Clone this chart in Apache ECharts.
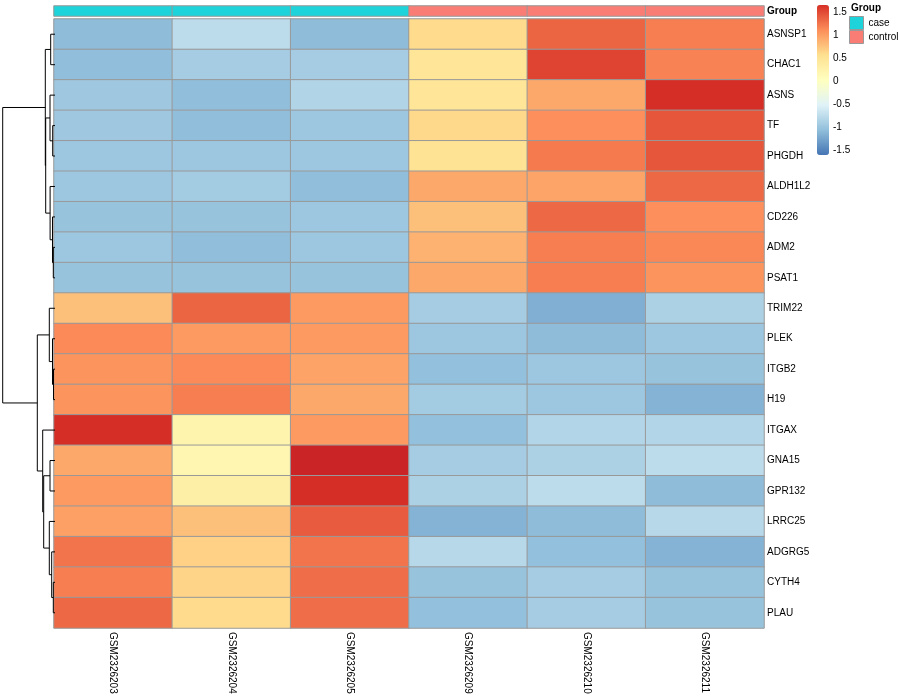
<!DOCTYPE html>
<html><head><meta charset="utf-8">
<script src="https://cdn.jsdelivr.net/npm/echarts@6/dist/echarts.min.js"></script>
<style>html,body{margin:0;padding:0;background:#fff}#c{width:900px;height:700px}</style>
</head><body><div id="c"></div>
<script>
// ---------- data ----------
const samples = ['GSM2326203','GSM2326204','GSM2326205','GSM2326209','GSM2326210','GSM2326211'];
const groups  = ['case','case','case','control','control','control'];
const groupNames = ['case','control'];
const genes = ['ASNSP1','CHAC1','ASNS','TF','PHGDH','ALDH1L2','CD226','ADM2','PSAT1','TRIM22',
               'PLEK','ITGB2','H19','ITGAX','GNA15','GPR132','LRRC25','ADGRG5','CYTH4','PLAU'];
// row-scaled expression, one row per gene (same order as genes), one column per sample
const expr = [
  [-1.09,-0.76,-1.09, 0.60, 1.35, 1.20],
  [-1.07,-0.93,-0.93, 0.48, 1.54, 1.18],
  [-0.97,-1.07,-0.84, 0.48, 0.94, 1.68],
  [-0.97,-1.07,-0.98, 0.62, 1.10, 1.44],
  [-0.98,-0.98,-0.98, 0.52, 1.22, 1.44],
  [-0.98,-0.94,-1.07, 0.94, 0.96, 1.33],
  [-1.02,-1.02,-0.98, 0.78, 1.33, 1.10],
  [-0.98,-1.07,-0.98, 0.87, 1.20, 1.15],
  [-1.02,-1.02,-1.02, 0.94, 1.20, 1.07],
  [ 0.78, 1.35, 1.03,-0.93,-1.18,-0.88],
  [ 1.13, 1.03, 1.03,-0.98,-1.09,-0.98],
  [ 1.07, 1.13, 0.97,-1.05,-0.98,-1.02],
  [ 1.07, 1.20, 0.94,-0.94,-0.98,-1.15],
  [ 1.68, 0.22, 1.03,-1.05,-0.83,-0.83],
  [ 0.94, 0.18, 1.80,-0.93,-0.88,-0.76],
  [ 1.03, 0.30, 1.68,-0.88,-0.76,-1.09],
  [ 0.99, 0.78, 1.41,-1.15,-1.09,-0.80],
  [ 1.26, 0.67, 1.26,-0.80,-1.05,-1.15],
  [ 1.20, 0.65, 1.30,-1.02,-0.93,-1.02],
  [ 1.33, 0.60, 1.30,-1.05,-0.93,-1.02]
];
const legendTicks = [-1.5, -1, -0.5, 0, 0.5, 1, 1.5];
const colorMin = -1.61, colorMax = 1.66;
// row dendrogram (hclust style): negative = leaf (1-based gene index), positive = earlier merge (1-based)
const mergeA = [-12, -8, -19, -4, -7, -11, -18, -1, -3, -6, -15, -10, -17,  9,  8, 11, -14, 12, 15];
const mergeB = [-13, -9, -20, -5,  2,   1,   3, -2,  4,  5, -16,   6,   7, 10, 14, 13,  16, 17, 18];
const mergeH = [1.5, 1.7, 1.7, 2.3, 2.5, 2.5, 3.3, 4.3, 5.0, 4.9, 5.0, 5.7, 5.7, 9.3, 9.7, 11.3, 12.3, 17.7, 52.3];

// ---------- styles ----------
const palette = ['#4575B4','#91BFDB','#E0F3F8','#FFFFBF','#FEE090','#FC8D59','#D73027'];
const paletteExt = palette.concat(['#A50026']);   // deeper red for values above the legend range
const stepC = (colorMax - colorMin) / (palette.length - 1);
const FONT = 'Liberation Sans, Arial, Helvetica, sans-serif';
const groupColors = {case:'#1ED3D9', control:'#FA7D75'};

// ---------- build series data ----------
const heatData = [];
expr.forEach((row, r) => row.forEach((v, c) => heatData.push([c, r, v])));

const nodeY = [], nodeH = [];
const dendroData = [];
mergeH.forEach((h, k) => {
  const a = mergeA[k], b = mergeB[k];
  const ya = a < 0 ? -a - 1 : nodeY[a - 1], ha = a < 0 ? 0 : nodeH[a - 1];
  const yb = b < 0 ? -b - 1 : nodeY[b - 1], hb = b < 0 ? 0 : nodeH[b - 1];
  nodeY[k] = (ya + yb) / 2; nodeH[k] = h;
  dendroData.push([ha, ya, hb, yb, h]);
});

const annoSeries = groupNames.map(g => ({
  type: 'heatmap', name: g, xAxisIndex: 1, yAxisIndex: 1,
  data: samples.map((s, i) => groups[i] === g ? [i, 0, 1] : null).filter(d => d),
  itemStyle: {color: groupColors[g], borderColor: '#999', borderWidth: 1},
  emphasis: {disabled: true}
}));

const chart = echarts.init(document.getElementById('c'), null, {renderer: 'canvas'});
chart.setOption({
  animation: false,
  backgroundColor: '#fff',
  textStyle: {fontFamily: FONT, color: '#000'},
  title: {text: 'Group', left: 851, top: 3, padding: 0,
          textStyle: {fontSize: 10, fontWeight: 'bold', color: '#000', fontFamily: FONT}},
  legend: {
    data: groupNames, orient: 'vertical', left: 849, top: 16, padding: 0,
    itemWidth: 14, itemHeight: 13, itemGap: 0, icon: 'rect',
    itemStyle: {borderColor: '#999', borderWidth: 1},
    textStyle: {fontSize: 10, color: '#000', fontFamily: FONT, overflow: 'none'},
    selectedMode: false
  },
  grid: [
    {left: 54, top: 19, width: 710, height: 609, outerBoundsMode: 'none'},
    {left: 54, top: 6, width: 710, height: 10, outerBoundsMode: 'none'},
    {left: 2.7, top: 19, width: 52.3, height: 609, outerBoundsMode: 'none'},
    {left: 817, top: 12, width: 12, height: 138, outerBoundsMode: 'none'}
  ],
  xAxis: [
    {type: 'category', gridIndex: 0, data: samples, position: 'bottom',
     axisLine: {show: false}, axisTick: {show: false}, splitLine: {show: false},
     axisLabel: {rotate: -90, fontSize: 10, color: '#000', margin: 4, interval: 0, fontFamily: FONT}},
    {type: 'category', gridIndex: 1, data: samples, show: false},
    {type: 'value', gridIndex: 2, min: 0, max: 52.3, inverse: true, show: false},
    {type: 'value', gridIndex: 3, min: 0, max: 1, show: false}
  ],
  yAxis: [
    {type: 'category', gridIndex: 0, data: genes, inverse: true, position: 'right',
     axisLine: {show: false}, axisTick: {show: false}, splitLine: {show: false},
     axisLabel: {fontSize: 10, color: '#000', margin: 3, interval: 0, fontFamily: FONT}},
    {type: 'category', gridIndex: 1, data: ['Group'], position: 'right',
     axisLine: {show: false}, axisTick: {show: false},
     axisLabel: {fontSize: 10, fontWeight: 'bold', color: '#000', margin: 3, fontFamily: FONT}},
    {type: 'value', gridIndex: 2, min: -0.5, max: genes.length - 0.5, inverse: true, show: false},
    {type: 'value', gridIndex: 3, min: -1.5, max: 1.5, interval: 0.5, position: 'right',
     axisLine: {show: false}, axisTick: {show: false}, splitLine: {show: false},
     axisLabel: {fontSize: 10, color: '#000', margin: 4, fontFamily: FONT,
                 customValues: legendTicks}}
  ],
  visualMap: [
    {type: 'continuous', seriesIndex: 0, min: colorMin, max: colorMax + stepC,
     inRange: {color: paletteExt}, show: false},
    {type: 'continuous', seriesIndex: [], min: colorMin, max: colorMax,
     inRange: {color: palette}, calculable: false, text: null,
     orient: 'vertical', left: 817, top: 5, itemWidth: 12, itemHeight: 150, padding: 0,
     showLabel: false, hoverLink: false}
  ],
  series: [
    {type: 'heatmap', xAxisIndex: 0, yAxisIndex: 0, data: heatData,
     itemStyle: {borderColor: '#999', borderWidth: 1}, emphasis: {disabled: true}},
    ...annoSeries,
    {type: 'custom', xAxisIndex: 2, yAxisIndex: 2, data: dendroData, silent: true,
     encode: {x: [0, 2, 4], y: [1, 3]},
     renderItem: (params, api) => {
       const p1 = api.coord([api.value(0), api.value(1)]);
       const p2 = api.coord([api.value(4), api.value(1)]);
       const p3 = api.coord([api.value(4), api.value(3)]);
       const p4 = api.coord([api.value(2), api.value(3)]);
       return {type: 'polyline', shape: {points: [p1, p2, p3, p4]},
               style: {stroke: '#000', lineWidth: 1, fill: null}};
     }}
  ]
});
</script>
</body></html>
